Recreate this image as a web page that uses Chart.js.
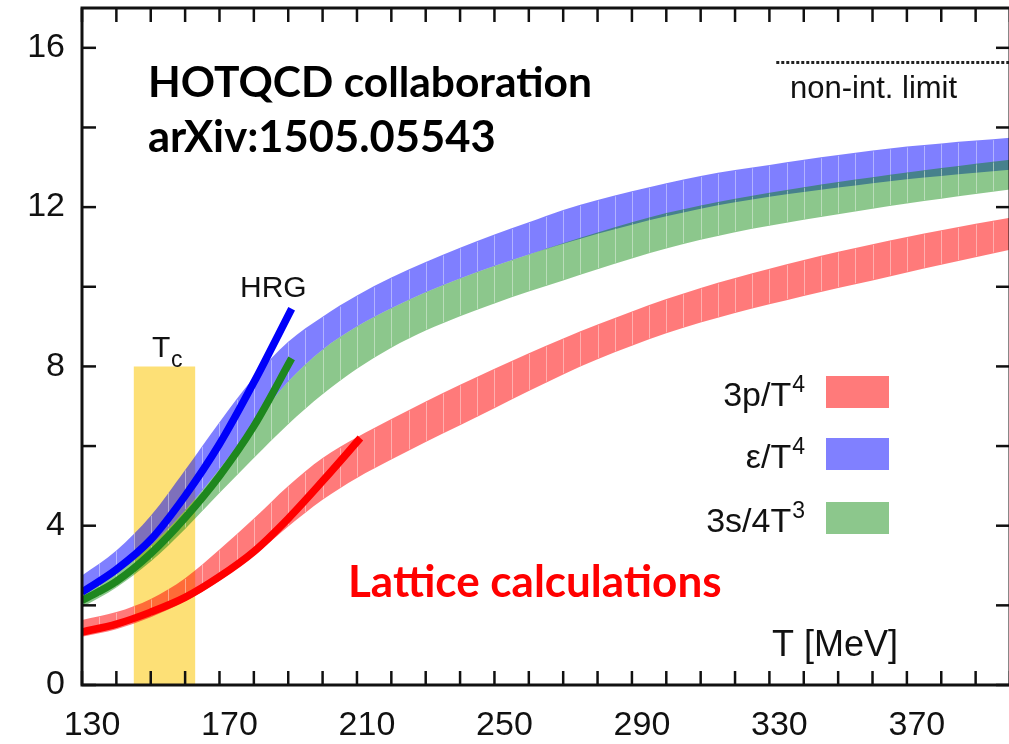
<!DOCTYPE html>
<html><head><meta charset="utf-8">
<script src="https://cdn.jsdelivr.net/npm/chart.js@4.4.1/dist/chart.umd.min.js"></script>
<style>html,body{margin:0;padding:0;background:#fff;overflow:hidden;width:1009px;height:744px}canvas{display:block}</style>
</head><body>
<canvas id="c" width="1012" height="744"></canvas>
<script>
// ---- data ----
const temps = [130,140,150,160,170,180,190,200,210,220,230,240,250,260,270,280,290,300,310,320,330,340,350,360,370,380,390,400];
const pressureHi = [1.63,1.83,2.16,2.68,3.40,4.18,5.00,5.70,6.22,6.68,7.12,7.54,7.94,8.33,8.70,9.05,9.38,9.69,9.97,10.22,10.45,10.67,10.88,11.07,11.25,11.42,11.58,11.73];
const pressureLo = [1.21,1.40,1.70,2.10,2.62,3.25,3.98,4.65,5.20,5.66,6.10,6.52,6.95,7.38,7.80,8.18,8.52,8.83,9.10,9.34,9.56,9.77,9.97,10.16,10.36,10.55,10.74,10.93];
const energyHi = [2.75,3.38,4.25,5.40,6.60,7.72,8.62,9.25,9.78,10.23,10.62,10.98,11.31,11.62,11.93,12.18,12.40,12.60,12.78,12.93,13.06,13.19,13.31,13.42,13.52,13.60,13.67,13.74];
const energyLo = [2.30,2.82,3.50,4.38,5.42,6.55,7.62,8.42,9.00,9.46,9.86,10.21,10.52,10.81,11.08,11.33,11.56,11.77,11.96,12.12,12.26,12.38,12.49,12.60,12.70,12.78,12.86,12.94];
const entropyHi = [2.30,2.82,3.50,4.38,5.42,6.55,7.62,8.42,9.00,9.46,9.86,10.21,10.52,10.81,11.09,11.36,11.62,11.85,12.04,12.21,12.36,12.50,12.63,12.75,12.87,12.98,13.09,13.19];
const entropyLo = [1.95,2.45,3.10,3.92,4.82,5.70,6.55,7.30,7.94,8.47,8.90,9.26,9.58,9.88,10.16,10.44,10.71,10.96,11.18,11.37,11.53,11.68,11.82,11.96,12.09,12.21,12.33,12.44];

const hrgEnergyT = [130,140,150,160,170,180,191];
const hrgEnergy  = [2.33,2.90,3.65,4.75,6.05,7.60,9.45];
const hrgEntropyT = [130,140,150,160,170,180,191];
const hrgEntropy  = [2.12,2.60,3.30,4.20,5.25,6.50,8.20];
const hrgPressureT = [130,140,150,160,170,180,190,200,211];
const hrgPressure  = [1.33,1.53,1.83,2.20,2.72,3.35,4.18,5.12,6.20];

const tcRange = [145,163];
const tcHeight = [8,8];
const nonIntT = [332,400];
const nonIntLimit = [15.63,15.63];

const xTickLabels = [130,170,210,250,290,330,370];
const yTickLabels = [0,4,8,12,16];

const legendItems = [
  {text:'3p/T', sup:'4', color:'rgb(255,122,122)'},
  {text:'\u03b5/T', sup:'4', color:'rgb(128,128,255)'},
  {text:'3s/4T', sup:'3', color:'rgb(140,199,140)'}
];

// ---- helpers ----
const pts = (xs, ys) => xs.map((x, i) => ({x, y: ys[i]}));
const band = (label, data, fill, color, order) => ({
  label, data, fill, backgroundColor: color, borderWidth: 0, pointRadius: 0,
  cubicInterpolationMode: 'monotone', order
});
const hrg = (label, data, color) => ({
  label, data, fill: false, borderColor: color, borderWidth: 7.5, pointRadius: 0,
  cubicInterpolationMode: 'monotone', borderCapStyle: 'butt', order: 2
});

const SANS = '"Liberation Sans", Arial, Helvetica, sans-serif';
const BANDS = {1: 2, 3: 4, 5: 6}; // hi dataset index -> lo dataset index

// interpolate a rendered curve (point elements) at pixel x
function curveY(meta, px) {
  const p = meta.data;
  for (let i = 0; i < p.length - 1; i++) {
    if (px >= p[i].x && px <= p[i + 1].x) {
      const t = (px - p[i].x) / (p[i + 1].x - p[i].x);
      return p[i].y + t * (p[i + 1].y - p[i].y);
    }
  }
  return null;
}

const stripes = {
  id: 'stripes',
  afterDatasetDraw(chart, args) {
    const lo = BANDS[args.index];
    if (lo === undefined) return;
    const {ctx, chartArea: a, scales: {x}} = chart;
    const mHi = chart.getDatasetMeta(args.index), mLo = chart.getDatasetMeta(lo);
    ctx.save();
    ctx.beginPath(); ctx.rect(a.left, a.top, a.right - a.left, a.bottom - a.top); ctx.clip();
    ctx.strokeStyle = 'rgba(255,255,255,0.4)';
    ctx.lineWidth = 1;
    for (let T = x.min + 5; T < x.max; T += 5) {
      const px = Math.round(x.getPixelForValue(T)) + 0.5;
      const y1 = curveY(mHi, px), y2 = curveY(mLo, px);
      if (y1 === null || y2 === null) continue;
      ctx.beginPath(); ctx.moveTo(px, y1 + 1); ctx.lineTo(px, y2 - 1); ctx.stroke();
    }
    ctx.restore();
  }
};

const annot = {
  id: 'annot',
  afterDraw(chart) {
    const {ctx, chartArea: a, scales: {x, y}} = chart;
    ctx.save();
    ctx.strokeStyle = '#111';
    const seg = (x1, y1, x2, y2) => { ctx.beginPath(); ctx.moveTo(x1, y1); ctx.lineTo(x2, y2); ctx.stroke(); };
    // inward ticks
    ctx.lineWidth = 2.5;
    const TL = 14;
    x.ticks.forEach(t => {
      const px = x.getPixelForValue(t.value);
      seg(px, a.bottom, px, a.bottom - TL);
      seg(px, a.top, px, a.top + TL);
    });
    y.ticks.forEach(t => {
      if (t.value % 2 !== 0) return;
      const py = y.getPixelForValue(t.value);
      seg(a.left, py, a.left + TL, py);
      seg(a.right, py, a.right - TL, py);
    });
    // frame
    ctx.lineWidth = 3;
    ctx.strokeRect(a.left, a.top, a.right - a.left, a.bottom - a.top);

    // plain labels
    ctx.fillStyle = '#111';
    ctx.textBaseline = 'alphabetic';
    ctx.textAlign = 'left';
    ctx.font = '30px ' + SANS;
    ctx.fillText('HRG', 240, 297);
    ctx.fillText('T', 152, 357);
    ctx.font = '23px ' + SANS;
    ctx.fillText('c', 171, 367);
    ctx.font = '31px ' + SANS;
    ctx.fillText('non-int. limit', 790, 98);
    ctx.font = '36px ' + SANS;
    ctx.fillText('T [MeV]', 772, 656);

    // legend
    const boxL = 826, boxW = 63, boxH = 32, textR = 805;
    const rows = [376, 438, 502];
    legendItems.forEach((it, i) => {
      const top = rows[i];
      ctx.fillStyle = it.color;
      ctx.fillRect(boxL, top, boxW, boxH);
      ctx.fillStyle = '#111';
      ctx.font = '23px ' + SANS;
      const sw = ctx.measureText(it.sup).width;
      ctx.textAlign = 'right';
      ctx.fillText(it.sup, textR, top + 16);
      ctx.font = '34px ' + SANS;
      ctx.fillText(it.text, textR - sw - 1, top + 30);
      ctx.textAlign = 'left';
    });

    // bold annotations
    ctx.fillStyle = '#000';
    ctx.font = 'bold 42.5px Lato, "Open Sans", sans-serif';
    ctx.fillText('HOTQCD collaboration', 148, 97);
    ctx.font = 'bold 43.5px Lato, "Open Sans", sans-serif';
    ctx.fillText('arXiv:1505.05543', 148, 152);
    ctx.fillStyle = '#ff0000';
    ctx.font = 'bold 44px Lato, "Open Sans", sans-serif';
    ctx.fillText('Lattice calculations', 348, 597);
    ctx.restore();
  }
};

const zeroPad = s => { s.paddingTop = 0; s.paddingBottom = 0; s.paddingLeft = 0; s.paddingRight = 0; };

new Chart(document.getElementById('c'), {
  type: 'line',
  data: {
    datasets: [
      {label: 'Tc', data: pts(tcRange, tcHeight), fill: 'origin', backgroundColor: 'rgb(253,224,118)',
       borderWidth: 0, pointRadius: 0, tension: 0, order: 10},
      band('3p/T4 hi', pts(temps, pressureHi), '+1', 'rgba(255,0,0,0.52)', 9),
      band('3p/T4 lo', pts(temps, pressureLo), false, 'transparent', 9),
      band('e/T4 hi', pts(temps, energyHi), '+1', 'rgba(0,0,255,0.5)', 8),
      band('e/T4 lo', pts(temps, energyLo), false, 'transparent', 8),
      band('3s/4T3 hi', pts(temps, entropyHi), '+1', 'rgba(0,130,0,0.45)', 7),
      band('3s/4T3 lo', pts(temps, entropyLo), false, 'transparent', 7),
      hrg('HRG p', pts(hrgPressureT, hrgPressure), 'rgb(255,0,0)'),
      hrg('HRG e', pts(hrgEnergyT, hrgEnergy), 'rgb(0,0,250)'),
      hrg('HRG s', pts(hrgEntropyT, hrgEntropy), 'rgb(30,135,30)'),
      {label: 'non-int', data: pts(nonIntT, nonIntLimit), fill: false, borderColor: '#222',
       borderWidth: 3, borderDash: [3, 2], pointRadius: 0, order: 1}
    ]
  },
  options: {
    responsive: false,
    animation: false,
    events: [],
    layout: {padding: {top: 8, right: 2, left: 0, bottom: 0}},
    plugins: {legend: {display: false}, tooltip: {enabled: false}},
    scales: {
      x: {
        type: 'linear', min: 130, max: 400,
        afterFit(s) { s.height = 59; zeroPad(s); },
        grid: {display: false, drawTicks: false},
        border: {display: false},
        ticks: {
          stepSize: 10, autoSkip: false, maxRotation: 0, includeBounds: false,
          labelOffset: 10, padding: 20, color: '#111',
          font: {family: SANS, size: 34},
          callback: v => xTickLabels.includes(v) ? String(v) : ''
        }
      },
      y: {
        type: 'linear', min: 0, max: 17,
        afterFit(s) { s.width = 82; zeroPad(s); },
        grid: {display: false, drawTicks: false},
        border: {display: false},
        ticks: {
          stepSize: 2, includeBounds: false, padding: 17, color: '#111',
          font: {family: SANS, size: 34},
          callback: v => yTickLabels.includes(v) ? String(v) : ''
        }
      }
    }
  },
  plugins: [stripes, annot]
});
</script>
</body></html>
